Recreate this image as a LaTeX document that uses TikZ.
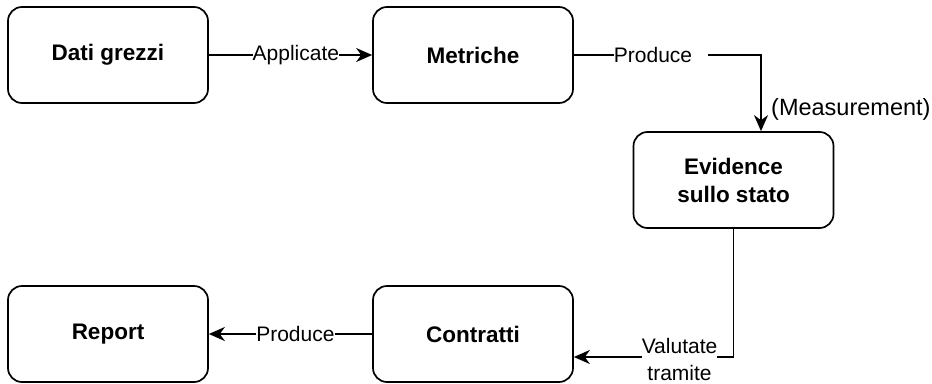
\documentclass[tikz,border=0pt]{standalone}
\usepackage{fontspec}
\setmainfont{Liberation Sans}
\usetikzlibrary{arrows.meta, positioning, calc}

\begin{document}
\begin{tikzpicture}[x=1pt,y=-1pt,
    stage/.style={rectangle,rounded corners=14pt,draw=black,line width=1.7pt,
                  minimum width=200pt,minimum height=96pt,align=center,
                  font=\fontsize{22.5}{28}\selectfont\bfseries},
    flow/.style={draw=black,line width=1.7pt,
                 -{Stealth[length=16pt,width=14pt,inset=5pt]}},
    lbl/.style={fill=white,inner xsep=0pt,inner ysep=1pt,
                font=\fontsize{21}{27}\selectfont}
  ]
  \useasboundingbox (0,0) rectangle (932,383);
  \node[stage] (raw) at (108,55) {Dati grezzi};
  \node[stage] (metr) at (473,55) {Metriche};
  \node[stage] (evid) at (733.5,180) {Evidence\\sullo stato};
  \node[stage] (rep) at (108,334) {Report};
  \node[stage] (contr) at (473,334) {Contratti};
  \draw[flow] (raw)--(metr) node[pos=0.533,lbl]{Applicate};
  \draw[flow] (metr.east) -| ([xshift=27.5pt]evid.north)
    node[pos=0.233,lbl]{Produce\kern16pt}
    node[pos=0.86,right=6pt,font=\fontsize{23.5}{28}\selectfont]{(Measurement)};
  \draw[flow] (evid.south) |- ([yshift=-23pt]contr.east)
    node[pos=0.669,lbl,align=center,yshift=-2pt]{Valutate\\tramite};
  \draw[flow] (contr)--(rep) node[pos=0.47,lbl]{Produce};
\end{tikzpicture}
\end{document}
